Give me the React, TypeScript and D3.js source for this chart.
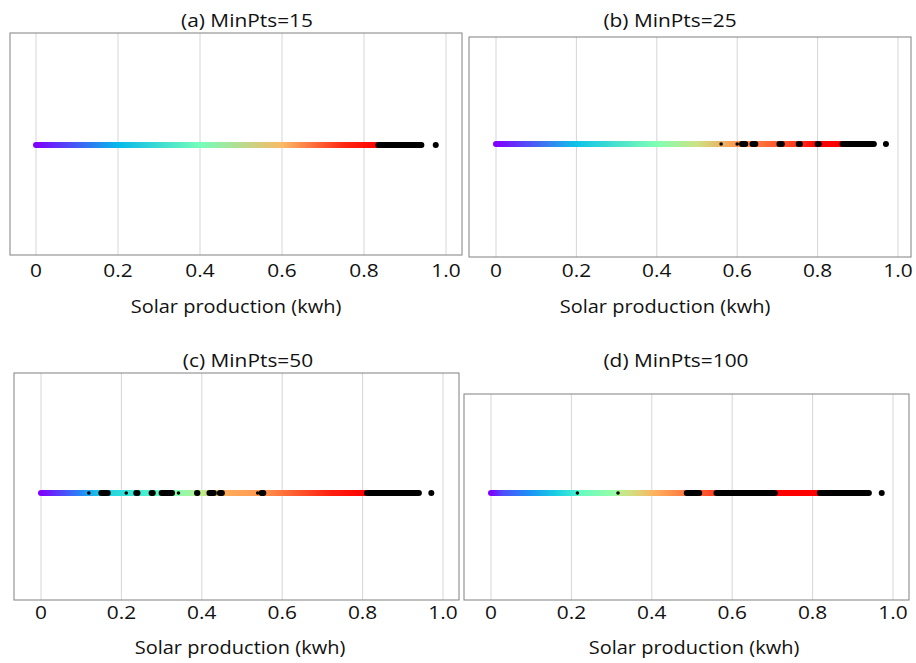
import React from 'react';
import * as d3 from 'd3';

// ---------- data ----------
const tickValues = [0, 0.2, 0.4, 0.6, 0.8, 1.0];
const tickLabels = ['0', '0.2', '0.4', '0.6', '0.8', '1.0'];
const panelTitles = ['(a) MinPts=15', '(b) MinPts=25', '(c) MinPts=50', '(d) MinPts=100'];
const xAxisTitle = 'Solar production (kwh)';

// clustered range end (value) per panel
const clusteredEnd = [0.835, 0.862, 0.811, 0.818];

// [value, colormap position] stops of the cluster colours
const colorStopsA: [number, number][] = [[0, 0], [0.2, 0.26], [0.4, 0.48], [0.6, 0.74], [0.75, 0.95], [0.835, 1]];
const colorStopsB: [number, number][] = [[0, 0], [0.2, 0.28], [0.4, 0.5], [0.5, 0.65], [0.6, 0.8], [0.75, 0.93], [0.8, 1], [0.862, 1]];
const colorStopsC: [number, number][] = [[0, 0], [0.1, 0.18], [0.15, 0.3], [0.25, 0.38], [0.33, 0.5], [0.4, 0.62], [0.45, 0.76], [0.55, 0.8], [0.62, 0.87], [0.72, 0.96], [0.811, 1]];
const colorStopsD: [number, number][] = [[0, 0], [0.03, 0.1], [0.1, 0.2], [0.16, 0.3], [0.21, 0.38], [0.22, 0.45], [0.31, 0.55], [0.32, 0.62], [0.36, 0.68], [0.41, 0.76], [0.49, 0.85], [0.56, 0.92], [0.71, 1], [0.818, 1]];

// noise (black) runs [from, to]
const noiseA: [number, number][] = [[0.835, 0.94], [0.975, 0.975]];
const noiseB: [number, number][] = [[0.612, 0.62], [0.638, 0.645], [0.705, 0.711], [0.753, 0.756], [0.8, 0.803], [0.862, 0.94], [0.97, 0.97]];
const noiseC: [number, number][] = [[0.15, 0.166], [0.237, 0.24], [0.275, 0.278], [0.3, 0.326], [0.388, 0.389], [0.419, 0.43], [0.445, 0.45], [0.549, 0.553], [0.811, 0.94], [0.971, 0.971]];
const noiseD: [number, number][] = [[0.487, 0.518], [0.561, 0.706], [0.818, 0.94], [0.972, 0.972]];
// small isolated noise marks
const sparseA: number[] = [];
const sparseB: number[] = [0.56, 0.6];
const sparseC: number[] = [0.119, 0.212, 0.342, 0.539];
const sparseD: number[] = [0.215, 0.316];

const colorStops = [colorStopsA, colorStopsB, colorStopsC, colorStopsD];
const noise = [noiseA, noiseB, noiseC, noiseD];
const sparse = [sparseA, sparseB, sparseC, sparseD];

// ---------- layout ----------
const layout = [
  { left: 10, right: 462, top: 33, bottom: 255, x0: 36, x1: 446, dotY: 145, titleX: 247, titleY: 27, tickY: 277, axisX: 236, axisY: 313 },
  { left: 469, right: 911, top: 37, bottom: 257, x0: 496, x1: 898, dotY: 144, titleX: 670, titleY: 27, tickY: 277, axisX: 665, axisY: 313 },
  { left: 14, right: 459, top: 373, bottom: 600, x0: 41, x1: 443, dotY: 493, titleX: 248, titleY: 367, tickY: 619, axisX: 240, axisY: 654 },
  { left: 464, right: 909, top: 394, bottom: 600, x0: 491, x1: 893, dotY: 493, titleX: 676, titleY: 367, tickY: 619, axisX: 694, axisY: 654 },
];

function rainbow(t: number): string {
  const c = (v: number) => Math.max(0, Math.min(1, v));
  const r = c(Math.abs(2 * t - 0.5));
  const g = c(Math.sin(Math.PI * t));
  const b = c(Math.cos((Math.PI / 2) * t));
  return d3.rgb(r * 255, g * 255, b * 255).toString();
}

const FONT = '"Open Sans", sans-serif';

function SText({ x, y, sx, size, children }: { x: number; y: number; sx: number; size: number; children: React.ReactNode }) {
  return (
    <g transform={`translate(${x},${y}) scale(${sx},1)`}>
      <text x={0} y={0} textAnchor="middle" fontFamily={FONT} fontSize={size} fill="#111">
        {children}
      </text>
    </g>
  );
}

function Panel({ i }: { i: number }) {
  const L = layout[i];
  const x = d3.scaleLinear().domain([0, 1]).range([L.x0, L.x1]);
  const stops = colorStops[i];
  const end = clusteredEnd[i];
  const gid = `grad${i}`;
  return (
    <g>
      <defs>
        <linearGradient id={gid} gradientUnits="userSpaceOnUse" x1={x(0)} x2={x(end)} y1={0} y2={0}>
          {stops.map(([v, t], k) => (
            <stop key={k} offset={v / end} stopColor={rainbow(t)} />
          ))}
        </linearGradient>
      </defs>
      {tickValues.map((v, k) => (
        <line key={k} x1={x(v)} x2={x(v)} y1={L.top} y2={L.bottom} stroke="#d6d6d6" strokeWidth={1} />
      ))}
      <rect x={L.left} y={L.top} width={L.right - L.left} height={L.bottom - L.top} fill="none" stroke="#808080" strokeWidth={1} />
      <line x1={x(0)} x2={x(end)} y1={L.dotY} y2={L.dotY} stroke={`url(#${gid})`} strokeWidth={6} strokeLinecap="round" />
      {noise[i].map(([a, b], k) => (
        <line key={k} x1={x(a)} x2={x(b)} y1={L.dotY} y2={L.dotY} stroke="#000" strokeWidth={6} strokeLinecap="round" />
      ))}
      {sparse[i].map((v, k) => (
        <circle key={k} cx={x(v)} cy={L.dotY} r={1.8} fill="#000" />
      ))}
      {tickValues.map((v, k) => (
        <SText key={k} x={x(v)} y={L.tickY} sx={1.13} size={18.5}>
          {tickLabels[k]}
        </SText>
      ))}
      <SText x={L.axisX} y={L.axisY} sx={1.08} size={18.5}>
        {xAxisTitle}
      </SText>
      <SText x={L.titleX} y={L.titleY} sx={1.13} size={18.5}>
        {panelTitles[i]}
      </SText>
    </g>
  );
}

export default function App() {
  return (
    <svg width={916} height={663} style={{ position: 'absolute', left: 0, top: 0, background: '#fff' }}>
      <rect x={0} y={0} width={916} height={663} fill="#fff" />
      {[0, 1, 2, 3].map((i) => (
        <Panel key={i} i={i} />
      ))}
    </svg>
  );
}
